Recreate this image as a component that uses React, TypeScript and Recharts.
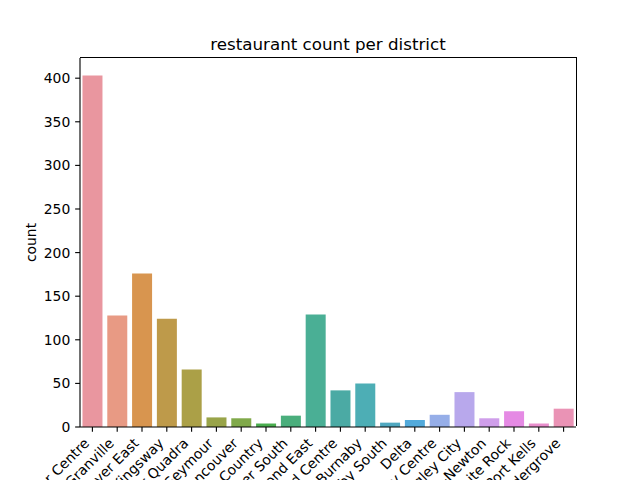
import React from 'react';
import { BarChart, Bar, XAxis, YAxis, Cell } from 'recharts';

const districts: string[] = [
  'Vancouver Centre',
  'Vancouver Granville',
  'Vancouver East',
  'Vancouver Kingsway',
  'Vancouver Quadra',
  'Burnaby North—Seymour',
  'North Vancouver',
  'West Vancouver—Sunshine Coast—Sea to Sky Country',
  'Vancouver South',
  'Steveston—Richmond East',
  'Richmond Centre',
  'New Westminster—Burnaby',
  'Burnaby South',
  'Delta',
  'Surrey Centre',
  'Cloverdale—Langley City',
  'Surrey—Newton',
  'South Surrey—White Rock',
  'Fleetwood—Port Kells',
  'Langley—Aldergrove',
];

const counts: number[] = [403, 128, 176, 124, 66, 11, 10, 4, 13, 129, 42, 50, 5, 8, 14, 40, 10, 18, 4, 21];

const colors: string[] = [
  '#e9969f', '#e89a84', '#d8954f', '#be9a4a', '#aba047',
  '#99a449', '#80a94a', '#4aad4f', '#4aae7c', '#4aaf95',
  '#4baaa4', '#4daeb5', '#50a8c0', '#53aadb', '#96aee8',
  '#b8a8ec', '#cf9eea', '#e58ae4', '#e88ecc', '#ea93b5',
];

const yTicks: number[] = [0, 50, 100, 150, 200, 250, 300, 350, 400];

const data = districts.map((d, i) => ({ district: d, count: counts[i] }));

const FONT = 'DejaVu Sans, sans-serif';
const FS = 13.9;
const TICK = 4.86;
const LW = 1.11;

const XTick = (props: any) => {
  const { x, y, payload } = props;
  return (
    <g transform={`translate(${x - 2.3},${y + 7.5})`}>
      <text transform="rotate(-45)" textAnchor="end" fontSize={FS} fontFamily={FONT} fill="#000">
        {payload.value}
      </text>
    </g>
  );
};

export default function App() {
  return (
    <div style={{ position: 'absolute', left: 0, top: 0, width: 640, height: 480, overflow: 'hidden', background: '#fff' }}>
      <BarChart
        width={640}
        height={480}
        data={data}
        margin={{ top: 58, right: 64, bottom: 0, left: 0 }}
        barCategoryGap="10%"
      >
        <XAxis
          dataKey="district"
          interval={0}
          height={53}
          tick={<XTick />}
          tickSize={TICK}
          tickMargin={TICK}
          tickLine={{ stroke: '#000', strokeWidth: LW }}
          axisLine={{ stroke: '#000', strokeWidth: LW }}
        />
        <YAxis
          width={80}
          domain={[0, 423.15]}
          ticks={yTicks}
          interval={0}
          tickSize={TICK}
          tickMargin={TICK}
          tick={{ fontSize: FS, fontFamily: FONT, fill: '#000' }}
          tickLine={{ stroke: '#000', strokeWidth: LW }}
          axisLine={{ stroke: '#000', strokeWidth: LW }}
        />
        <Bar dataKey="count" isAnimationActive={false}>
          {data.map((d, i) => (
            <Cell key={d.district} fill={colors[i]} />
          ))}
        </Bar>
      </BarChart>
      <div
        style={{
          position: 'absolute',
          left: 80,
          top: 58 - LW / 2,
          width: 496 + LW / 2,
          height: 369,
          borderTop: `${LW}px solid #000`,
          borderRight: `${LW}px solid #000`,
          boxSizing: 'border-box',
          pointerEvents: 'none',
        }}
      />
      <svg
        width={640}
        height={480}
        style={{ position: 'absolute', left: 0, top: 0, pointerEvents: 'none' }}
      >
        <text x={328} y={50} textAnchor="middle" fontSize={16.7} fontFamily={FONT} fill="#000">
          restaurant count per district
        </text>
        <text
          x={35.5}
          y={242.5}
          transform="rotate(-90 35.5 242.5)"
          textAnchor="middle"
          fontSize={FS}
          fontFamily={FONT}
          fill="#000"
        >
          count
        </text>
      </svg>
    </div>
  );
}
